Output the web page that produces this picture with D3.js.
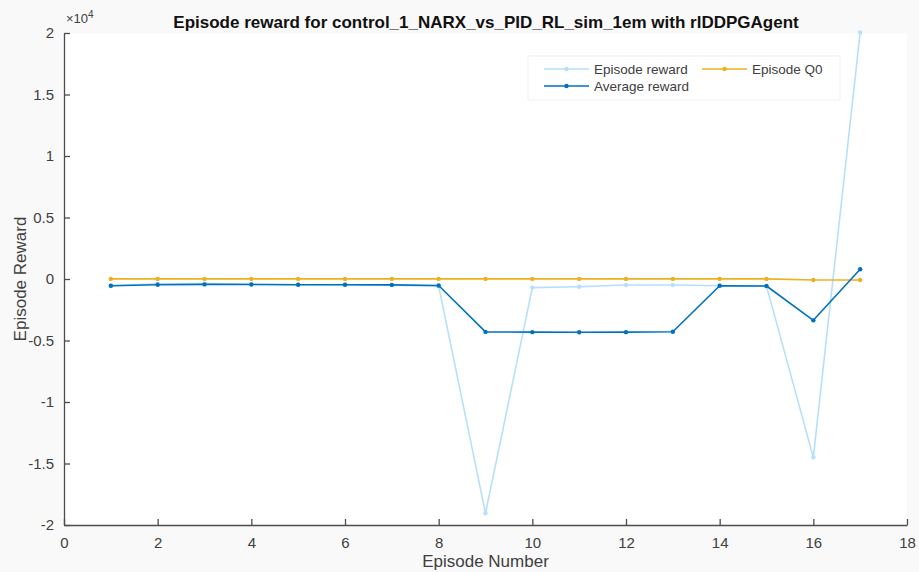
<!DOCTYPE html>
<html>
<head>
<meta charset="utf-8">
<script src="https://cdn.jsdelivr.net/npm/d3@7"></script>
<style>
  html, body { margin: 0; padding: 0; background: #f9f9f9; }
  svg { display: block; font-family: Arial, "Liberation Sans", Helvetica, sans-serif; }
</style>
</head>
<body>
<svg id="chart" width="919" height="572"></svg>
<script>
// Training statistics per episode
const episodes = [1, 2, 3, 4, 5, 6, 7, 8, 9, 10, 11, 12, 13, 14, 15, 16, 17];
const episodeReward = [-545, -390, -380, -420, -470, -460, -500, -580, -19050, -700, -630, -490, -490, -550, -580, -14500, 20050];
const averageReward = [-545, -470, -440, -445, -470, -470, -480, -530, -4300, -4320, -4330, -4320, -4290, -550, -570, -3360, 790];
const episodeQ0 = [10, 10, 10, 10, 10, 10, 10, 10, 10, 10, 10, 10, 10, 10, 10, -80, -80];
const xTicks = [0, 2, 4, 6, 8, 10, 12, 14, 16, 18];
const yTicks = [-20000, -15000, -10000, -5000, 0, 5000, 10000, 15000, 20000];

const colors = { reward: "#b5e0fb", average: "#0072bd", q0: "#edb120" };

const svg = d3.select("#chart");
const m = { left: 64, right: 907, top: 33, bottom: 525 };

const x = d3.scaleLinear().domain([0, 18]).range([m.left, m.right]);
const y = d3.scaleLinear().domain([-20000, 20000]).range([m.bottom, m.top]);

// plot area background
svg.append("rect")
  .attr("x", m.left).attr("y", m.top)
  .attr("width", m.right - m.left).attr("height", m.bottom - m.top)
  .attr("fill", "#ffffff");

const axisColor = "#4d4d4d";
const tickTextColor = "#404040";

// x axis (ticks pointing into the plot)
const gx = svg.append("g")
  .attr("transform", `translate(0,${m.bottom})`)
  .call(d3.axisBottom(x).tickValues(xTicks).tickSize(-6).tickPadding(12).tickFormat(d3.format("d")).tickSizeOuter(0));
gx.select(".domain").attr("stroke", axisColor).attr("stroke-width", 1.3);
gx.selectAll(".tick line").attr("stroke", axisColor).attr("stroke-width", 1.3);
gx.selectAll(".tick text").attr("fill", tickTextColor).attr("font-size", 15);

// y axis, labels in units of 1e4
const gy = svg.append("g")
  .attr("transform", `translate(${m.left},0)`)
  .call(d3.axisLeft(y).tickValues(yTicks).tickSize(-6).tickPadding(10).tickSizeOuter(0));
gy.select(".domain").attr("stroke", axisColor).attr("stroke-width", 1.3);
gy.selectAll(".tick line").attr("stroke", axisColor).attr("stroke-width", 1.3);
gy.selectAll(".tick text").attr("fill", tickTextColor).attr("font-size", 15)
  .text(d => d3.format("~g")(d / 10000).replace("−", "-"));

// exponent marker
const expo = svg.append("text")
  .attr("x", m.left + 2).attr("y", 23)
  .attr("fill", tickTextColor).attr("font-size", 13);
expo.append("tspan").text("×10");
expo.append("tspan").attr("font-size", 10).attr("dy", -5).text("4");

// title and axis labels
svg.append("text")
  .attr("x", 486).attr("y", 28)
  .attr("text-anchor", "middle").attr("font-size", 17).attr("font-weight", "bold")
  .attr("fill", "#111")
  .text("Episode reward for control_1_NARX_vs_PID_RL_sim_1em with rlDDPGAgent");

svg.append("text")
  .attr("x", (m.left + m.right) / 2).attr("y", 567)
  .attr("text-anchor", "middle").attr("font-size", 17).attr("fill", tickTextColor)
  .text("Episode Number");

svg.append("text")
  .attr("transform", `translate(26,${(m.top + m.bottom) / 2}) rotate(-90)`)
  .attr("text-anchor", "middle").attr("font-size", 17).attr("fill", tickTextColor)
  .text("Episode Reward");

// series
const series = [
  { name: "Episode reward", values: episodeReward, color: colors.reward },
  { name: "Episode Q0", values: episodeQ0, color: colors.q0 },
  { name: "Average reward", values: averageReward, color: colors.average }
];

const line = d3.line().x((d, i) => x(episodes[i])).y(d => y(d));

const plot = svg.append("g");
series.forEach(s => {
  plot.append("path")
    .datum(s.values)
    .attr("fill", "none")
    .attr("stroke", s.color)
    .attr("stroke-width", 1.6)
    .attr("stroke-linejoin", "round")
    .attr("d", line);
  plot.selectAll(null)
    .data(s.values)
    .enter().append("circle")
    .attr("cx", (d, i) => x(episodes[i]))
    .attr("cy", d => y(d))
    .attr("r", 2.2)
    .attr("fill", s.color);
});

// legend
const legend = svg.append("g");
legend.append("rect")
  .attr("x", 528).attr("y", 56).attr("width", 312).attr("height", 44)
  .attr("fill", "#ffffff").attr("stroke", "#f0f0f0").attr("stroke-width", 1);

const legendItems = [
  { s: series[0], lx: 544, ly: 69 },
  { s: series[1], lx: 702, ly: 69 },
  { s: series[2], lx: 544, ly: 86 }
];
legendItems.forEach(it => {
  legend.append("line")
    .attr("x1", it.lx).attr("x2", it.lx + 45)
    .attr("y1", it.ly).attr("y2", it.ly)
    .attr("stroke", it.s.color).attr("stroke-width", 1.6);
  legend.append("circle")
    .attr("cx", it.lx + 22.5).attr("cy", it.ly).attr("r", 2.2)
    .attr("fill", it.s.color);
  legend.append("text")
    .attr("x", it.lx + 50).attr("y", it.ly + 5)
    .attr("font-size", 13.5).attr("fill", tickTextColor)
    .text(it.s.name);
});
</script>
</body>
</html>
